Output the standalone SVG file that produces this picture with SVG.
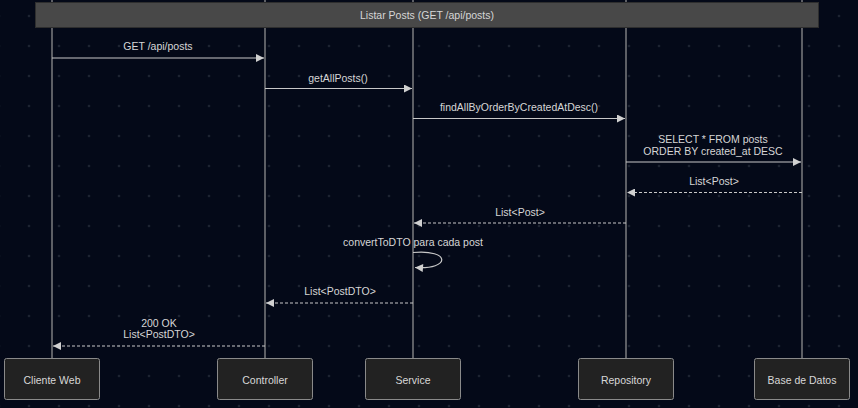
<svg xmlns="http://www.w3.org/2000/svg" width="858" height="408" viewBox="0 0 858 408">
<defs>
<pattern id="dots" patternUnits="userSpaceOnUse" x="14" y="1" width="30" height="30">
<circle cx="15" cy="15" r="1.3" fill="#1d2331"/>
</pattern>
<marker id="arr" viewBox="0 0 10 10" refX="10" refY="5" markerUnits="userSpaceOnUse" markerWidth="10" markerHeight="8" orient="auto">
<path d="M0,0 L10,5 L0,10 z" fill="#d0d0d0"/>
</marker>
<style>
.life{stroke:#9a9a9a;stroke-width:1.2;fill:none}
.msg{stroke:#c8c8c8;stroke-width:1.2;fill:none}
.ret{stroke:#c8c8c8;stroke-width:1.2;fill:none;stroke-dasharray:3,2}
.lbl{font-family:"Liberation Sans",Arial,sans-serif;font-size:10.5px;fill:#d6d6d6;text-anchor:middle}
.box{fill:#222222;stroke:#8a8a8a;stroke-width:1}
.name{font-family:"Liberation Sans",Arial,sans-serif;font-size:10.5px;fill:#d8d8d8;text-anchor:middle}
</style>
</defs>
<rect width="858" height="408" fill="#040918"/>
<rect width="858" height="408" fill="url(#dots)"/>
<g id="lifelines">
<line class="life" x1="52" y1="0" x2="52" y2="358"/>
<line class="life" x1="265" y1="0" x2="265" y2="358"/>
<line class="life" x1="413" y1="0" x2="413" y2="358"/>
<line class="life" x1="626" y1="0" x2="626" y2="358"/>
<line class="life" x1="802" y1="0" x2="802" y2="358"/>
</g>
<g id="title">
<rect x="35.5" y="2.5" width="783" height="25" fill="#484848" stroke="#2e2e2e" stroke-width="1"/>
<text class="lbl" x="427" y="19" fill="#cfcfcf">Listar Posts (GET /api/posts)</text>
</g>
<g id="connectors">
<line class="msg" x1="52" y1="58" x2="264" y2="58" marker-end="url(#arr)"/>
<text class="lbl" x="158" y="50">GET /api/posts</text>
<line class="msg" x1="265" y1="88.5" x2="412" y2="88.5" marker-end="url(#arr)"/>
<text class="lbl" x="338" y="82">getAllPosts()</text>
<line class="msg" x1="413" y1="118.5" x2="625" y2="118.5" marker-end="url(#arr)"/>
<text class="lbl" x="519" y="111">findAllByOrderByCreatedAtDesc()</text>
<line class="msg" x1="626" y1="162" x2="801" y2="162" marker-end="url(#arr)"/>
<text class="lbl" x="713" y="142.5">SELECT * FROM posts</text>
<text class="lbl" x="713" y="154.5">ORDER BY created_at DESC</text>
<line class="ret" x1="802" y1="192.5" x2="627" y2="192.5" marker-end="url(#arr)"/>
<text class="lbl" x="714" y="184.5">List&lt;Post&gt;</text>
<line class="ret" x1="626" y1="223" x2="414" y2="223" marker-end="url(#arr)"/>
<text class="lbl" x="520" y="215.5">List&lt;Post&gt;</text>
<path class="msg" d="M413,252.5 C451,249 451,270 415,267.5" marker-end="url(#arr)"/>
<text class="lbl" x="413" y="246">convertToDTO para cada post</text>
<line class="ret" x1="413" y1="303" x2="266" y2="303" marker-end="url(#arr)"/>
<text class="lbl" x="340" y="295">List&lt;PostDTO&gt;</text>
<line class="ret" x1="265" y1="346" x2="53" y2="346" marker-end="url(#arr)"/>
<text class="lbl" x="159" y="326.5">200 OK</text>
<text class="lbl" x="159" y="338">List&lt;PostDTO&gt;</text>
</g>
<g id="cliente-web">
<rect class="box" x="4.5" y="358.5" width="95" height="41" rx="2"/>
<text class="name" x="52" y="383.5">Cliente Web</text>
</g>
<g id="controller">
<rect class="box" x="217.5" y="358.5" width="95" height="41" rx="2"/>
<text class="name" x="265" y="383.5">Controller</text>
</g>
<g id="service">
<rect class="box" x="365.5" y="358.5" width="95" height="41" rx="2"/>
<text class="name" x="413" y="383.5">Service</text>
</g>
<g id="repository">
<rect class="box" x="578.5" y="358.5" width="95" height="41" rx="2"/>
<text class="name" x="626" y="383.5">Repository</text>
</g>
<g id="base-de-datos">
<rect class="box" x="754.5" y="358.5" width="95" height="41" rx="2"/>
<text class="name" x="802" y="383.5">Base de Datos</text>
</g>
</svg>
